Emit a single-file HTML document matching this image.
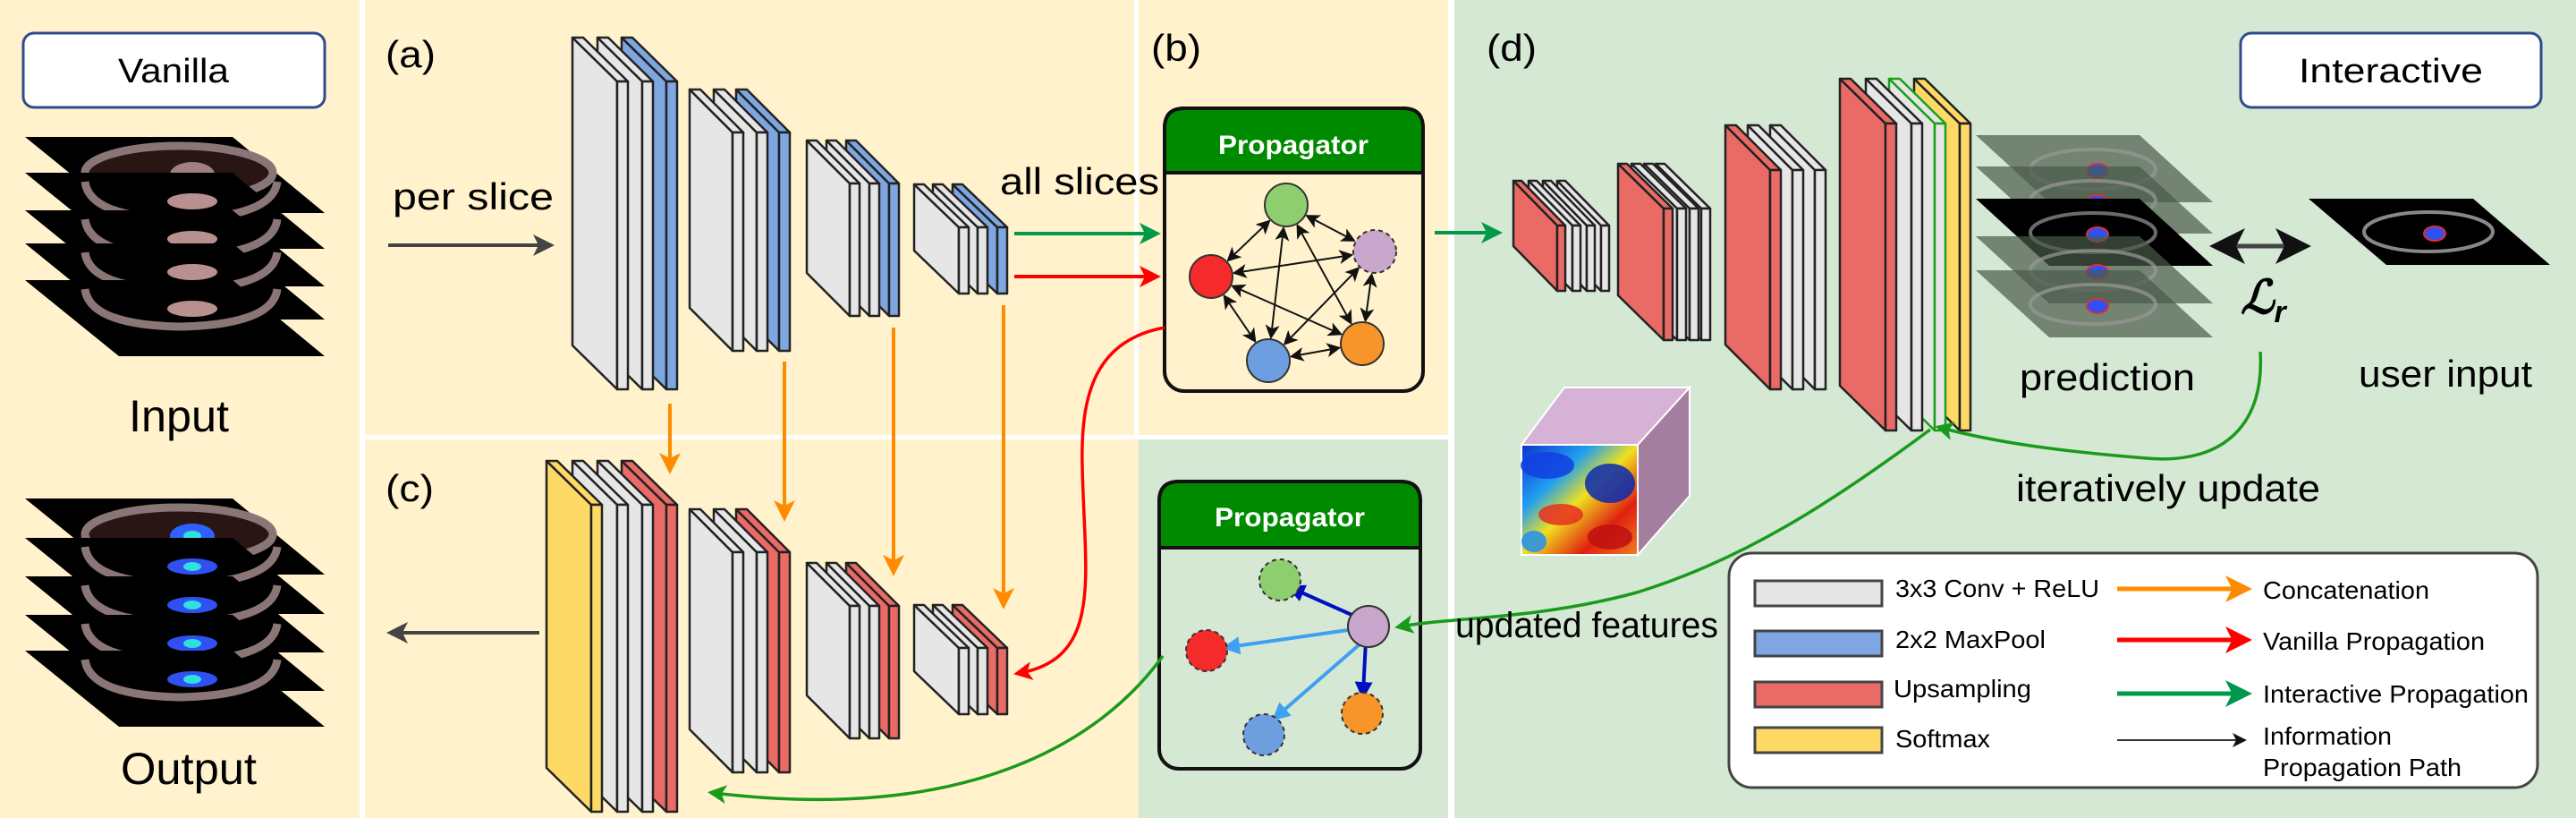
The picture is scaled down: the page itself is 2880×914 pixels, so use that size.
<!DOCTYPE html>
<html><head><meta charset="utf-8"><style>
html,body{margin:0;padding:0;background:#fff;}
svg{display:block;}
text{font-family:"Liberation Sans",sans-serif;}
.n{font-family:"Liberation Sans Narrow","Liberation Sans",sans-serif;}
</style></head><body>
<svg id="s" width="2880" height="914" viewBox="0 0 2880 914" xmlns="http://www.w3.org/2000/svg">
<defs>
<marker id="aO" markerWidth="6" markerHeight="6" refX="4" refY="3" orient="auto" markerUnits="strokeWidth"><path d="M0,0 L6,3 L0,6 L1.5,3z" fill="#ff8c00"/></marker>
<marker id="aR" markerWidth="6" markerHeight="6" refX="4" refY="3" orient="auto" markerUnits="strokeWidth"><path d="M0,0 L6,3 L0,6 L1.5,3z" fill="#ff0000"/></marker>
<marker id="aG" markerWidth="6" markerHeight="6" refX="4" refY="3" orient="auto" markerUnits="strokeWidth"><path d="M0,0 L6,3 L0,6 L1.5,3z" fill="#00994c"/></marker>
<marker id="aG2" markerWidth="6" markerHeight="6" refX="4" refY="3" orient="auto" markerUnits="strokeWidth"><path d="M0,0 L6,3 L0,6 L1.5,3z" fill="#1a9a1a"/></marker>
<marker id="aK" markerWidth="6" markerHeight="6" refX="4" refY="3" orient="auto" markerUnits="strokeWidth"><path d="M0,0 L6,3 L0,6 L1.5,3z" fill="#444"/></marker>
<marker id="aKs" markerWidth="8" markerHeight="8" refX="6" refY="4" orient="auto" markerUnits="strokeWidth"><path d="M0,0 L8,4 L0,8 L2,4z" fill="#111"/></marker>
<marker id="aKb" markerWidth="8" markerHeight="8" refX="2" refY="4" orient="auto" markerUnits="strokeWidth"><path d="M8,0 L0,4 L8,8 L6,4z" fill="#111"/></marker>
<marker id="aDB" markerWidth="5" markerHeight="5" refX="3" refY="2.5" orient="auto" markerUnits="strokeWidth"><path d="M0,0 L5,2.5 L0,5z" fill="#0010c0"/></marker>
<marker id="aLB" markerWidth="5" markerHeight="5" refX="3" refY="2.5" orient="auto" markerUnits="strokeWidth"><path d="M0,0 L5,2.5 L0,5z" fill="#3f9ff0"/></marker>
<linearGradient id="hm" x1="0" y1="0" x2="1" y2="1">
<stop offset="0" stop-color="#1030d0"/><stop offset="0.3" stop-color="#20a0f0"/><stop offset="0.5" stop-color="#f0e020"/><stop offset="0.75" stop-color="#e02010"/><stop offset="1" stop-color="#f08020"/></linearGradient>
</defs>
<rect x="0" y="0" width="2880" height="914" fill="#ffffff"/>
<rect x="0" y="0" width="402" height="914" fill="#fff2cc"/>
<rect x="408" y="0" width="860" height="486" fill="#fff2cc"/>
<rect x="408" y="491" width="865" height="423" fill="#fff2cc"/>
<rect x="1273" y="0" width="346" height="486" fill="#fff2cc"/>
<rect x="1273" y="491" width="346" height="423" fill="#d5e8d4"/>
<rect x="1626" y="0" width="1254" height="914" fill="#d5e8d4"/>
<rect x="1268" y="0" width="5" height="486" fill="#ffffff"/>

<rect x="26" y="37" width="337" height="83" rx="12" fill="#fff" stroke="#2f4b8c" stroke-width="3"/>
<text x="194" y="92" font-size="38" text-anchor="middle" textLength="124" lengthAdjust="spacingAndGlyphs">Vanilla</text>
<rect x="2505" y="37" width="336" height="83" rx="12" fill="#fff" stroke="#2f4b8c" stroke-width="3"/>
<text x="2673" y="92" font-size="38" text-anchor="middle" textLength="206" lengthAdjust="spacingAndGlyphs">Interactive</text>

<g id="stacks"></g>

<text x="200" y="482" font-size="50" text-anchor="middle" textLength="112" lengthAdjust="spacingAndGlyphs">Input</text>
<text x="211" y="876" font-size="50" text-anchor="middle" textLength="152" lengthAdjust="spacingAndGlyphs">Output</text>

<text x="431" y="75" font-size="42" textLength="56" lengthAdjust="spacingAndGlyphs">(a)</text>
<text x="431" y="560" font-size="42" textLength="54" lengthAdjust="spacingAndGlyphs">(c)</text>
<text x="1287" y="68" font-size="42" textLength="56" lengthAdjust="spacingAndGlyphs">(b)</text>
<text x="1662" y="68" font-size="42" textLength="56" lengthAdjust="spacingAndGlyphs">(d)</text>

<text x="439" y="234" font-size="42" textLength="180" lengthAdjust="spacingAndGlyphs">per slice</text>
<line x1="434" y1="274" x2="612" y2="274" stroke="#444" stroke-width="4" marker-end="url(#aK)"/>
<text x="1118" y="217" font-size="42" textLength="178" lengthAdjust="spacingAndGlyphs">all slices</text>
<line x1="603" y1="707" x2="440" y2="707" stroke="#444" stroke-width="4" marker-end="url(#aK)"/>

<g id="blocks"></g>

<g stroke="#ff8c00" stroke-width="4" fill="none">
<line x1="749" y1="451" x2="749" y2="522" marker-end="url(#aO)"/>
<line x1="877" y1="404" x2="877" y2="575" marker-end="url(#aO)"/>
<line x1="999" y1="366" x2="999" y2="636" marker-end="url(#aO)"/>
<line x1="1122" y1="341" x2="1122" y2="673" marker-end="url(#aO)"/>
</g>
<line x1="1134" y1="261" x2="1290" y2="261" stroke="#00994c" stroke-width="4" marker-end="url(#aG)"/>
<line x1="1134" y1="309" x2="1290" y2="309" stroke="#ff0000" stroke-width="4" marker-end="url(#aR)"/>
<line x1="1604" y1="260" x2="1672" y2="260" stroke="#00994c" stroke-width="4" marker-end="url(#aG)"/>

<rect x="1302" y="121" width="289" height="316" rx="22" fill="#fff2cc" stroke="#111" stroke-width="4"/>
<path d="M1302,193 L1302,143 Q1302,121 1324,121 L1569,121 Q1591,121 1591,143 L1591,193 Z" fill="#008a00" stroke="#111" stroke-width="4"/>
<text x="1446" y="172" font-size="30" font-weight="bold" fill="#fff" text-anchor="middle" class="n" textLength="168" lengthAdjust="spacingAndGlyphs">Propagator</text>
<g id="net1"></g>
<rect x="1296" y="538" width="292" height="321" rx="22" fill="#d5e8d4" stroke="#111" stroke-width="4"/>
<path d="M1296,612 L1296,560 Q1296,538 1318,538 L1566,538 Q1588,538 1588,560 L1588,612 Z" fill="#008a00" stroke="#111" stroke-width="4"/>
<text x="1442" y="588" font-size="30" font-weight="bold" fill="#fff" text-anchor="middle" class="n" textLength="168" lengthAdjust="spacingAndGlyphs">Propagator</text>
<g stroke-width="4" fill="none">
<line x1="1518" y1="690" x2="1446" y2="658" stroke="#0010c0" marker-end="url(#aDB)"/>
<line x1="1527" y1="716" x2="1524" y2="774" stroke="#0010c0" marker-end="url(#aDB)"/>
<line x1="1507" y1="704" x2="1374" y2="723" stroke="#3f9ff0" marker-end="url(#aLB)"/>
<line x1="1520" y1="720" x2="1428" y2="800" stroke="#3f9ff0" marker-end="url(#aLB)"/>
</g>
<g stroke="#333" stroke-width="2" stroke-dasharray="5,4">
<ellipse cx="1431" cy="648" rx="23" ry="23" fill="#8fce6f"/>
<ellipse cx="1349" cy="727" rx="23" ry="23" fill="#f52a2a"/>
<ellipse cx="1523" cy="797" rx="23" ry="23" fill="#f7952a"/>
<ellipse cx="1413" cy="821" rx="23" ry="23" fill="#6d9fe0"/>
</g>
<ellipse cx="1530" cy="700" rx="23" ry="23" fill="#c9a6cc" stroke="#333" stroke-width="2"/>

<path d="M1302,366 C1225,380 1208,440 1210,520 C1212,640 1235,735 1140,752" fill="none" stroke="#ff0000" stroke-width="3.5" marker-end="url(#aR)"/>
<path d="M1300,733 C1230,830 1080,920 798,886" fill="none" stroke="#1a9a1a" stroke-width="3.5" marker-end="url(#aG2)"/>
<path d="M2527,393 C2532,470 2490,520 2400,512 C2300,504 2230,494 2170,478" fill="none" stroke="#1a9a1a" stroke-width="3.5" marker-end="url(#aG2)"/>
<path d="M2158,480 C2050,560 1950,625 1830,662 C1720,692 1620,690 1566,700" fill="none" stroke="#1a9a1a" stroke-width="3.5" marker-end="url(#aG2)"/>

<polygon points="1701,497 1749,433 1889,433 1831,497" fill="#d6b3d6" stroke="#fff" stroke-width="2"/>
<polygon points="1831,497 1889,433 1889,554 1831,620" fill="#a47e9e" stroke="#fff" stroke-width="2"/>
<rect x="1701" y="497" width="130" height="123" fill="url(#hm)" stroke="#fff" stroke-width="2"/>
<g opacity="0.85">
<ellipse cx="1730" cy="520" rx="30" ry="15" fill="#1040e0"/>
<ellipse cx="1800" cy="540" rx="28" ry="22" fill="#0a2ab0"/>
<ellipse cx="1745" cy="575" rx="25" ry="12" fill="#e83020"/>
<ellipse cx="1800" cy="600" rx="25" ry="14" fill="#c01010"/>
<ellipse cx="1715" cy="605" rx="14" ry="12" fill="#2090f0"/>
</g>

<g id="pred"></g>
<line x1="2480" y1="275" x2="2574" y2="275" stroke="#444" stroke-width="5" marker-start="url(#aKb)" marker-end="url(#aKs)"/>
<text x="2505" y="350" font-size="52" font-style="italic" font-weight="bold" font-family="DejaVu Serif, serif">ℒ<tspan font-size="34" dy="10">r</tspan></text>
<text x="2258" y="436" font-size="42" textLength="196" lengthAdjust="spacingAndGlyphs">prediction</text>
<text x="2637" y="432" font-size="42" textLength="194" lengthAdjust="spacingAndGlyphs">user input</text>
<text x="2254" y="560" font-size="42" textLength="340" lengthAdjust="spacingAndGlyphs">iteratively update</text>
<text x="1627" y="712" font-size="40" textLength="294" lengthAdjust="spacingAndGlyphs">updated features</text>

<rect x="1933" y="618" width="904" height="262" rx="26" fill="#fff" stroke="#444" stroke-width="3"/>
<g stroke="#444" stroke-width="3">
<rect x="1962" y="649" width="142" height="28" fill="#e6e6e6"/>
<rect x="1962" y="705" width="142" height="28" fill="#7ea6e0"/>
<rect x="1962" y="762" width="142" height="28" fill="#ea6b66"/>
<rect x="1962" y="813" width="142" height="28" fill="#ffd966"/>
</g>
<g font-size="28" class="n">
<text x="2119" y="667" class="n" textLength="228" lengthAdjust="spacingAndGlyphs">3x3 Conv + ReLU</text>
<text x="2119" y="724" class="n" textLength="168" lengthAdjust="spacingAndGlyphs">2x2 MaxPool</text>
<text x="2117" y="779" class="n" textLength="154" lengthAdjust="spacingAndGlyphs">Upsampling</text>
<text x="2119" y="835" class="n" textLength="106" lengthAdjust="spacingAndGlyphs">Softmax</text>
<text x="2530" y="669" class="n" textLength="186" lengthAdjust="spacingAndGlyphs">Concatenation</text>
<text x="2530" y="726" class="n" textLength="248" lengthAdjust="spacingAndGlyphs">Vanilla Propagation</text>
<text x="2530" y="785" class="n" textLength="297" lengthAdjust="spacingAndGlyphs">Interactive Propagation</text>
<text x="2530" y="832" class="n" textLength="144" lengthAdjust="spacingAndGlyphs">Information</text>
<text x="2530" y="867" class="n" textLength="222" lengthAdjust="spacingAndGlyphs">Propagation Path</text>
</g>
<line x1="2367" y1="658" x2="2508" y2="658" stroke="#ff8c00" stroke-width="5" marker-end="url(#aO)"/>
<line x1="2367" y1="715" x2="2508" y2="715" stroke="#ff0000" stroke-width="5" marker-end="url(#aR)"/>
<line x1="2367" y1="775" x2="2508" y2="775" stroke="#00994c" stroke-width="5" marker-end="url(#aG)"/>
<line x1="2367" y1="827" x2="2508" y2="827" stroke="#333" stroke-width="2" marker-end="url(#aKs)"/>
</svg>
<script>
var NS="http://www.w3.org/2000/svg";
function el(p,t,a){var e=document.createElementNS(NS,t);for(var k in a)e.setAttribute(k,a[k]);p.appendChild(e);return e;}
var C={G:"#e6e6e6",B:"#7ea6e0",R:"#ea6b66",Y:"#ffd966",W:"#e6e6e6"};
var blocks=document.getElementById("blocks");
function slab(fx,fw,t,b,dx,dy,c){
 var st=c=="W"?"#1aa01a":"#222";
 var g=el(blocks,"g",{stroke:st,"stroke-width":2.5,"stroke-linejoin":"round",fill:C[c]});
 el(g,"polygon",{points:(fx-dx)+","+(t-dy)+" "+fx+","+t+" "+fx+","+b+" "+(fx-dx)+","+(b-dy)});
 el(g,"polygon",{points:(fx-dx)+","+(t-dy)+" "+(fx-dx+fw)+","+(t-dy)+" "+(fx+fw)+","+t+" "+fx+","+t});
 el(g,"rect",{x:fx,y:t,width:fw,height:b-t});
}
function block(fr,cols,w,t,b,dx,dy){for(var i=fr.length-1;i>=0;i--)slab(fr[i],w,t,b,dx,dy,cols[i]);}
block([690,718,745],"GGB",12,91,435,50,49);
block([819,846,871],"GGB",12,148,392,48,48);
block([950,972,994],"GGB",11,205,353,48,48);
block([1072,1093,1115],"GGB",11,254,328,50,48);
block([661,690,718,745],"YGGR",12,564,907,50,49);
block([819,846,871],"GGR",12,617,863,48,48);
block([950,972,994],"GGR",11,677,825,48,48);
block([1072,1093,1115],"GGR",11,724,798,50,48);
block([1741,1758,1774,1790],"RGGG",9,252,325,49,50);
block([1860,1875,1889,1902],"RGGG",10,233,380,51,50);
block([1979,2004,2029],"RGG",12,190,435,50,50);
block([2108,2137,2163,2191],"RGWY",12,138,481,51,50);

var st=document.getElementById("stacks");
function ctStack(tops,h,out){
 tops.forEach(function(y,i){
  el(st,"polygon",{points:"28,"+y+" 260,"+y+" 363,"+(y+h)+" 133,"+(y+h),fill:"#000"});
  if(i==0){
   el(st,"ellipse",{cx:200,cy:y+40,rx:105,ry:30,fill:"#2a1515",stroke:"#8a7676","stroke-width":9});
   el(st,"ellipse",{cx:215,cy:y+42,rx:25,ry:14,fill:out?"#3060ff":"#a08080"});
   if(out)el(st,"ellipse",{cx:215,cy:y+42,rx:10,ry:6,fill:"#30e0e0"});
  } else {
   el(st,"path",{d:"M95,"+(y+10)+" Q100,"+(y+50)+" 200,"+(y+52)+" Q305,"+(y+50)+" 310,"+(y+10),fill:"none",stroke:"#8a7676","stroke-width":9});
   el(st,"ellipse",{cx:215,cy:y+32,rx:28,ry:9,fill:out?"#3050f0":"#b89090"});
   if(out)el(st,"ellipse",{cx:215,cy:y+32,rx:10,ry:5,fill:"#30e0e0"});
  }
 });
}
ctStack([153,193,235,272,313],85,false);
ctStack([557,601,644,687,727],85,true);

var pr=document.getElementById("pred");
[151,186,222,264,302].forEach(function(y,i){
 el(pr,"polygon",{points:"2209,"+y+" 2392,"+y+" 2474,"+(y+75)+" 2291,"+(y+75),fill:i==2?"#000":"#4a5a4a","fill-opacity":i==2?1:0.7});
 el(pr,"ellipse",{cx:2340,cy:y+38,rx:70,ry:22,fill:"none",stroke:"#999","stroke-width":4,"stroke-opacity":0.7});
 el(pr,"ellipse",{cx:2345,cy:y+40,rx:12,ry:8,fill:"#3050f0",stroke:"#e03030","stroke-width":2});
});
el(pr,"polygon",{points:"2581,222 2765,222 2851,296 2668,296",fill:"#000"});
el(pr,"ellipse",{cx:2715,cy:259,rx:72,ry:22,fill:"none",stroke:"#888","stroke-width":4});
el(pr,"ellipse",{cx:2722,cy:261,rx:12,ry:8,fill:"#3050f0",stroke:"#e03030","stroke-width":2});

var n1=document.getElementById("net1");
var N=[[1438,229,"#8fce6f",0],[1537,281,"#c9a6cc",1],[1523,384,"#f7952a",0],[1418,403,"#6d9fe0",0],[1354,309,"#f52a2a",0]];
var r=24;
for(var i=0;i<5;i++)for(var j=i+1;j<5;j++){
 var a=N[i],b=N[j],vx=b[0]-a[0],vy=b[1]-a[1],L=Math.hypot(vx,vy),ux=vx/L,uy=vy/L;
 el(n1,"line",{x1:a[0]+ux*(r+4),y1:a[1]+uy*(r+4),x2:b[0]-ux*(r+4),y2:b[1]-uy*(r+4),stroke:"#111","stroke-width":2,"marker-start":"url(#aKb)","marker-end":"url(#aKs)"});
}
N.forEach(function(n){el(n1,"circle",{cx:n[0],cy:n[1],r:r,fill:n[2],stroke:"#333","stroke-width":2,"stroke-dasharray":n[3]?"5,4":"none"});});
</script>
</body></html>
